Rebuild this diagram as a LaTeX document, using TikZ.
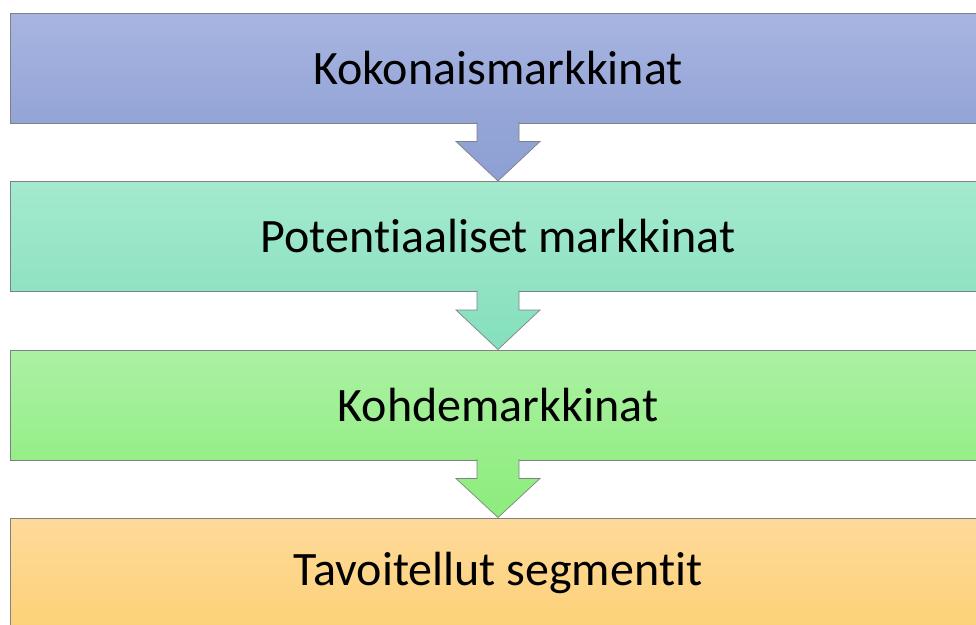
\documentclass[tikz,border=0pt]{standalone}
\usepackage{fontspec}
\setmainfont{Carlito}[Ligatures=NoCommon]
\usetikzlibrary{calc}

\definecolor{blueTop}{HTML}{A8B5E1}
\definecolor{blueBot}{HTML}{93A4D6}
\definecolor{blueArr}{HTML}{8E9FD4}
\definecolor{mintTop}{HTML}{A4EACE}
\definecolor{mintBot}{HTML}{8FE2C2}
\definecolor{mintArr}{HTML}{84E0BD}
\definecolor{leafTop}{HTML}{ACF1A4}
\definecolor{leafBot}{HTML}{96EE88}
\definecolor{leafArr}{HTML}{8CED7C}
\definecolor{sandTop}{HTML}{FEDA9A}
\definecolor{sandBot}{HTML}{FDD178}
\definecolor{edgeGray}{HTML}{7F8285}

\tikzset{
  stage/.style={draw=edgeGray, line width=1pt, minimum width=976pt, minimum height=110pt,
    inner sep=0pt, font=\fontsize{48}{57}\selectfont},
  funnel/.style={draw=edgeGray, line width=0.7pt, line join=miter},
}

\begin{document}
\begin{tikzpicture}[x=1pt,y=-1pt]
			\useasboundingbox (0,0) rectangle (976,624);
			\clip (0,0) rectangle (976,624);
			\fill[white] (0,0) rectangle (976,624);
			\node[stage, top color=blueTop, bottom color=blueBot](kokonais) at (498,68){Kokonaismarkkinat};
			\node[stage, top color=mintTop, bottom color=mintBot](potent) at (498,236.5){Potentiaaliset markkinat};
			\node[stage, top color=leafTop, bottom color=leafBot](kohde) at (498,405){Kohdemarkkinat};
			\node[stage, top color=sandTop, bottom color=sandBot](tavoite) at (498,573){Tavoitellut segmentit};
			\draw[funnel, top color=blueBot, bottom color=blueArr] ($(kokonais.south)+(-21,-1.5)$) -- ($(kokonais.south)+(-21,18)$) -- ($(kokonais.south)+(-42,18)$) -- (potent.north) -- ($(kokonais.south)+(42,18)$) -- ($(kokonais.south)+(21,18)$) -- ($(kokonais.south)+(21,-1.5)$);
			\draw[funnel, top color=mintBot, bottom color=mintArr] ($(potent.south)+(-21,-1.5)$) -- ($(potent.south)+(-21,18)$) -- ($(potent.south)+(-42,18)$) -- (kohde.north) -- ($(potent.south)+(42,18)$) -- ($(potent.south)+(21,18)$) -- ($(potent.south)+(21,-1.5)$);
			\draw[funnel, top color=leafBot, bottom color=leafArr] ($(kohde.south)+(-21,-1.5)$) -- ($(kohde.south)+(-21,18)$) -- ($(kohde.south)+(-42,18)$) -- (tavoite.north) -- ($(kohde.south)+(42,18)$) -- ($(kohde.south)+(21,18)$) -- ($(kohde.south)+(21,-1.5)$);
		\end{tikzpicture}
\end{document}
